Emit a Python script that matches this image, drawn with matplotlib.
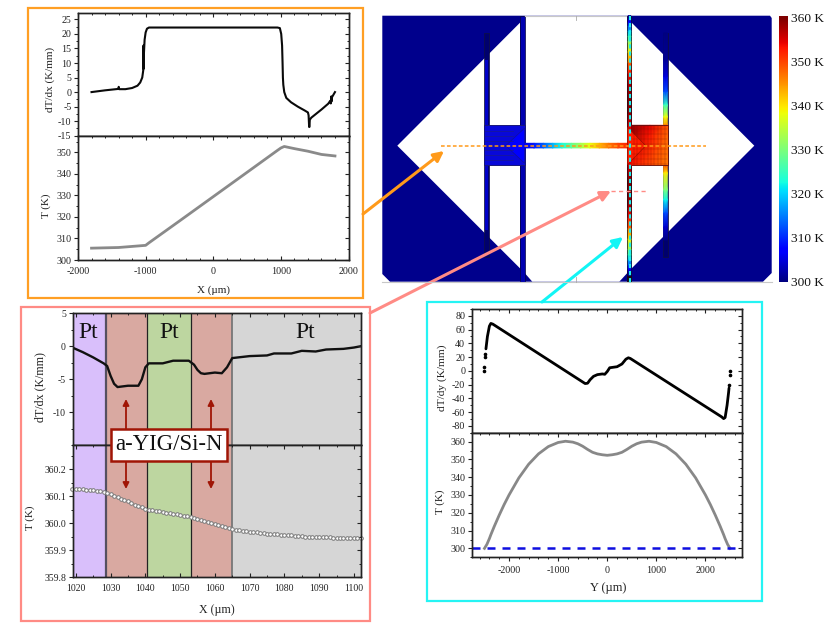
import numpy as np
import matplotlib
matplotlib.use("Agg")
import matplotlib.pyplot as plt
from matplotlib.patches import Rectangle, Polygon, FancyArrowPatch
from matplotlib.ticker import MultipleLocator, FixedLocator, FormatStrFormatter

plt.rcParams['font.family'] = ['Liberation Serif', 'DejaVu Serif']
plt.rcParams['axes.unicode_minus'] = False
plt.rcParams['mathtext.fontset'] = 'stix'

W, H = 830, 623

# panel A (orange)
a_x1 = [-1800,-1600,-1400,-1398,-1392,-1300,-1200,-1120,-1080,-1050,-1035,-1032,-1030,-1028,-1015,-1000,-980,-950,
        950,985,1005,1018,1025,1030,1036,1050,1080,1150,1250,1350,1400,1410,1418,1422,1428,1450,1600,1700,1730,1738,1745,1750,1755,1800]
a_y1 = [0,0.6,1.1,1.8,1.0,1.0,1.4,2.2,3.3,5,7.5,16,8,12,18,20.5,21.8,22.2,
        22.2,22.0,20,16,10,5,2.5,0,-2,-3.5,-5,-6.3,-7,-8,-12,-12,-9.5,-8.8,-6,-4,-3,-3.9,-1.5,-3.2,-1.8,0]
a_x2 = [-1800,-1400,-1000,-950,-500,0,500,950,1000,1050,1200,1400,1600,1800]
a_y2 = [305.5,305.8,306.8,308.0,318.1,329.4,340.7,350.9,352.0,352.7,351.7,350.5,349.0,348.3]

# panel B (pink)
b_x1 = [1019,1022,1025,1028,1029,1030,1031,1032,1035,1038,1039,1040,1041,1045,1048,1052.5,1054,1055,1056,1057,1060,1062,1063.5,1065,
        1070,1075,1077,1082,1085,1089,1092,1097,1100,1102]
b_y1 = [-0.2,-0.9,-1.7,-2.6,-3.0,-4.5,-5.7,-6.2,-6.0,-6.0,-5.0,-3.2,-2.6,-2.6,-2.2,-2.2,-2.8,-3.6,-4.1,-4.2,-4.0,-4.1,-3.2,-1.8,
        -1.5,-1.4,-1.1,-1.1,-0.7,-0.8,-0.5,-0.4,-0.2,0.0]
b_x2 = list(range(1019, 1103))
b_y2 = [360.128,360.128,360.127,360.126,360.125,360.124,360.122,360.120,360.118,360.115,360.112,
        360.107,360.101,360.096,360.091,360.086,360.081,360.075,360.069,360.064,360.059,
        360.054,360.051,360.048,360.046,360.044,360.041,360.039,360.037,360.035,360.033,
        360.030,360.028,360.026,360.023,360.020,360.017,360.013,360.009,360.005,360.001,
        359.996,359.992,359.989,359.986,359.982,359.979,359.977,359.975,359.973,359.971,
        359.969,359.968,359.966,359.965,359.963,359.962,359.961,359.960,359.959,359.958,
        359.957,359.956,359.955,359.954,359.953,359.952,359.951,359.951,359.950,359.950,
        359.949,359.949,359.948,359.948,359.947,359.947,359.946,359.946,359.946,359.945,359.945,359.945,359.945]
b_regions = [(1019,1028.6,'#d9bffb'),(1028.6,1040.6,'#d9a9a1'),(1040.6,1053,'#bdd6a0'),(1053,1065,'#d9a9a1'),(1065,1102,'#d6d6d6')]
b_edges = [(1028.6,'#555060',1.6),(1040.6,'#222222',0.9),(1053,'#222222',0.9),(1065,'#777777',1.3)]

# panel C (cyan)
c_x1 = [-2470,-2440,-2400,-2370,-2330,-450,-400,-350,-280,-200,-100,-50,0,50,100,200,300,380,430,470,2330,2370,2400,2440,2470,2480]
c_y1 = [32,50,65,69,68,-18.5,-18,-13,-8,-5.5,-4.5,-5,-1,4.5,5,6,10,17,19,18,-67,-69.5,-68,-50,-32,-25]
c_dots_x = [-2500,-2500,-2480,-2480,2480,2500,2500]
c_dots_y = [0,6,20,25,-20,-6,0]
c_x2 = [-2500,-2450,-2400,-2370,-2300,-2200,-2100,-2000,-1800,-1600,-1400,-1200,-1000,-850,-700,-600,-500,-400,-300,-200,-100,0,
        100,200,300,400,500,600,700,850,1000,1200,1400,1600,1800,2000,2100,2200,2300,2370,2400,2450,2500]
c_y2 = [300,302.3,305.5,307.7,312.4,318.7,324.6,330,339.6,347.3,353.1,357.2,359.5,360.2,359.7,358.8,357.4,355.6,354,353.1,352.6,352.3,
        352.6,353.1,354,355.6,357.4,358.8,359.7,360.2,359.5,357.2,353.1,347.3,339.6,330,324.6,318.7,312.4,307.7,305.5,302.3,300]
c_base = 300

# device map: temperature along the strips
bridge_T = [306,309,313,318,323,328,333,338,343,347,350,352]
outer_py = [33,60,77,92,105,117,125,165,173,190,200,213,227,240]
outer_T =  [300,301,305,312,325,338,345,350,340,330,322,312,304,300]
cbar_ticks = [300,310,320,330,340,350,360]


def add(x0, y0, x1, y1, **kw):
    return fig.add_axes([x0/W, 1-y1/H, (x1-x0)/W, (y1-y0)/H], **kw)


def style(ax, xlim, ylim, xmaj, xmin, ymaj, ymin, top_only=False, ts=7.2):
    ax.set_xlim(xlim); ax.set_ylim(ylim)
    ax.xaxis.set_major_locator(MultipleLocator(xmaj)); ax.xaxis.set_minor_locator(MultipleLocator(xmin))
    ax.yaxis.set_major_locator(MultipleLocator(ymaj)); ax.yaxis.set_minor_locator(MultipleLocator(ymin))
    ax.tick_params(axis='x', which='major', direction='in', length=3.2, width=0.8, top=True, bottom=not top_only,
                   labelbottom=not top_only, labelsize=ts, pad=5, color='#222222', labelcolor='#222222')
    ax.tick_params(axis='x', which='minor', direction='in', length=1.6, width=0.7, top=True, bottom=not top_only, color='#222222')
    ax.tick_params(axis='y', which='major', direction='out', length=3.2, width=0.8, labelsize=ts, pad=1.5, color='#222222', labelcolor='#222222')
    ax.tick_params(axis='y', which='minor', direction='out', length=1.6, width=0.7, color='#222222')
    for s in ax.spines.values():
        s.set_linewidth(1.0); s.set_color('#222222')
    r = ax.twinx(); r.set_ylim(ylim)
    r.yaxis.set_major_locator(MultipleLocator(ymaj)); r.yaxis.set_minor_locator(MultipleLocator(ymin))
    r.tick_params(axis='y', which='major', direction='in', length=3.2, width=0.8, labelright=False, color='#222222')
    r.tick_params(axis='y', which='minor', direction='in', length=1.6, width=0.7, color='#222222')
    for s in r.spines.values():
        s.set_linewidth(1.0); s.set_color('#222222')
    return ax


fig = plt.figure(figsize=(W/100, H/100), dpi=100, facecolor='white')

# Panel A
a1 = style(add(78, 12.7, 348.5, 135.7), (-2000,2000), (-15,27.3), 1000, 200, 5, 2.5, True)
a1.plot(a_x1, a_y1, color='#0a0a0a', lw=1.5)
a2 = style(add(78, 135.7, 348.5, 260), (-2000,2000), (300,357.7), 1000, 200, 10, 5)
a2.plot(a_x2, a_y2, color='#8a8a8a', lw=2.0)

# Panel B
b1 = style(add(72.5, 313.3, 360.5, 445), (1019.04,1101.9), (-15,5), 10, 5, 5, 2.5, True, ts=7)
b1.yaxis.set_major_locator(FixedLocator([-10,-5,0,5]))
b1.yaxis.set_minor_locator(FixedLocator([-15,-12.5,-7.5,-2.5,2.5]))
b2 = style(add(72.5, 445, 360.5, 577.3), (1019.04,1101.9), (359.8,360.29), 10, 5, 0.1, 0.05, ts=7)
b2.yaxis.set_major_formatter(FormatStrFormatter('%.1f'))
for ax in (b1, b2):
    for x0, x1, c in b_regions:
        ax.axvspan(x0, x1, color=c, lw=0, zorder=0)
    for x, c, lw in b_edges:
        ax.axvline(x, color=c, lw=lw, zorder=1)
b1.plot(b_x1, b_y1, color='#111111', lw=1.7, zorder=3)
b2.plot(b_x2, b_y2, ls='none', marker='o', ms=2.6, mfc='white', mec='#777777', mew=0.7, zorder=3, clip_on=False)

# Panel C
c1 = style(add(471.7, 309, 742.3, 432.7), (-2760,2750), (-90,90), 1000, 200, 20, 10, True)
c1.plot(c_x1, c_y1, color='black', lw=2.0, solid_capstyle='round')
c1.plot(c_dots_x, c_dots_y, ls='none', marker='o', ms=1.6, color='black')
c2 = style(add(471.7, 432.7, 742.3, 557.3), (-2760,2750), (295,365), 1000, 200, 10, 5)
c2.tick_params(axis='x', which='both', direction='out', top=False, pad=3)
c2top = c2.secondary_xaxis('top')
c2top.xaxis.set_major_locator(MultipleLocator(1000)); c2top.xaxis.set_minor_locator(MultipleLocator(200))
c2top.tick_params(axis='x', which='major', direction='in', length=3.2, width=0.8, labeltop=False, color='#222222')
c2top.tick_params(axis='x', which='minor', direction='in', length=1.6, width=0.7, color='#222222')
c2.plot(c_x2, c_y2, color='#888888', lw=2.0)
c2.plot([-2760, 2620], [c_base, c_base], color='#0f0fe0', lw=1.8, dashes=(3.2, 2.8))

# Overlay in pixel coordinates
ov = fig.add_axes([0, 0, 1, 1], zorder=10)
ov.set_xlim(0, W); ov.set_ylim(H, 0); ov.axis('off'); ov.patch.set_alpha(0)

# Frames
for (x0, y0, x1, y1, c) in [(28,8,363,298,'#ff9f24'), (21,307,370,621,'#ff8b85'), (426.7,302,762,600.7,'#25f4f4')]:
    ov.add_patch(Rectangle((x0,y0), x1-x0, y1-y0, fill=False, ec=c, lw=1.6))

# Device
navy = '#00008c'
ov.add_patch(Polygon([(382.3,15.7),(770,15.7),(771.7,18),(771.7,273),(763,281.7),(390,281.7),(382.3,274)], fc=navy, ec='none'))
ov.plot([382.3,771.7],[281.7,281.7], color='#c8c8c8', lw=0.8)
ov.plot([525,626],[15.7,15.7], color='#c8c8c8', lw=0.8)
for pts in ([(397.3,145.7),(520,22.7),(520,268.3)], [(754.3,145.7),(631.7,22.7),(631.7,268.3)]):
    ov.add_patch(Polygon(pts, fc='white', ec='none'))
ov.add_patch(Polygon([(524.7,15.7),(627.3,15.7),(627.3,273),(619.3,281.7),(532.3,281.7),(524.7,273)], fc='white', ec='none'))
ov.plot([575.5,575.5],[15.7,20],color='#aaaaaa',lw=0.6); ov.plot([575.5,575.5],[277,281.7],color='#aaaaaa',lw=0.6)

# left structure
ov.add_patch(Rectangle((484.3,33.3), 4.3, 223.4, fc='#00006e', ec='#101040', lw=0.5))
ov.add_patch(Rectangle((485.3,60), 2.3, 170, fc='#0000c8', ec='none'))
ov.add_patch(Rectangle((520,15.7), 4.7, 266, fc='#0000b0', ec='#050540', lw=0.5))
ov.add_patch(Rectangle((484.3,125.3), 40.4, 40, fc='#0808d8', ec='#18187a', lw=0.7))
for zy in (131,136,141,146,150,155,160):
    ov.plot([485,513],[zy,zy], color='#1a1a90', lw=0.5)
ov.add_patch(Polygon([(524.7,128),(505.7,145.7),(524.7,163.3)], fc='#0000ff', ec='#10109a', lw=0.5))

# bridge
bx = np.linspace(524.7, 627.3, len(bridge_T))
ov.pcolormesh(bx, [143.3,147.9], np.array([bridge_T, bridge_T]), cmap='jet', vmin=300, vmax=360, shading='gouraud')

# right inner bar coloured by the T(Y) profile, on a dark backing
ov.add_patch(Rectangle((627.3,15.7), 4.4, 266, fc='#180818', ec='none'))
cy = 145.7 - np.array(c_x2) * 260/5000
cT = np.array(c_y2)
ov.pcolormesh([628.2,630.8], cy[::-1], np.array([cT[::-1], cT[::-1]]).T, cmap='jet', vmin=300, vmax=360, shading='gouraud')

# right outer bar
ov.add_patch(Rectangle((663,33.3), 4.7, 223.4, fc='#00006e', ec='#101040', lw=0.5))
ov.pcolormesh([663.7,667.3], outer_py, np.array([outer_T, outer_T]).T, cmap='jet', vmin=300, vmax=360, shading='gouraud')

# right pad
px_ = [631.7, 650, 667.7]
ov.pcolormesh(px_, [125.3,135,156,165.3], np.array([[359,355,349],[358,353,348],[354,351,347],[353,350,347]]),
              cmap='jet', vmin=300, vmax=360, shading='gouraud')
for zx in np.arange(634, 667, 3.4):
    ov.plot([zx,zx],[126,165], color='#701000', lw=0.35, alpha=0.5)
for zy in np.arange(129, 165, 5):
    ov.plot([632,667],[zy,zy], color='#701000', lw=0.35, alpha=0.5)
ov.add_patch(Polygon([(627.3,127),(645.7,145.7),(627.3,165)], fc='#ff1c00', ec='#901000', lw=0.4))
ov.plot([631.7,667.7,667.7,631.7],[125.3,125.3,165.3,165.3], color='#601010', lw=0.6)

# section lines
ov.plot([441,706],[145.7,145.7], color='#ff9a1a', lw=1.1, dashes=(2.4,1.5))
ov.plot([611,647],[191,191], color='#ff8b85', lw=1.0, dashes=(3,2.4))
ov.plot([629.5,629.5],[15.7,283], color='#1cf0f0', lw=1.5, dashes=(2,1.4))

# arrows
for p0, p1, c in [((363,214),(444,151),'#ff9a1a'), ((370,313),(611,191),'#ff8b85'), ((542,302),(623,237),'#12f5f5')]:
    ov.add_patch(FancyArrowPatch(p0, p1, arrowstyle='-|>', mutation_scale=15, lw=2.2, color=c, shrinkA=0, shrinkB=0))

# region labels
for x, s in [(88,'Pt'), (169,'Pt'), (305,'Pt')]:
    ov.text(x, 332.5, s, fontsize=17, ha='center', va='center', color='#111111')
for x in (126, 211):
    ov.add_patch(FancyArrowPatch((x,399),(x,489), arrowstyle='<|-|>', mutation_scale=9, lw=1.3, color='#a01505', shrinkA=0, shrinkB=0))
ov.add_patch(Rectangle((111,429), 115.7, 31.7, fc='white', ec='#a01505', lw=1.8, zorder=5))
ov.text(168.8, 445, 'a-YIG/Si-N', fontsize=16.4, ha='center', va='center', color='#111111', zorder=6)

# axis labels
lab = dict(color='#222222', ha='center', va='center')
ov.text(50.5, 79, 'dT/dx (K/mm)', fontsize=8, rotation=90, **lab)
ov.text(46, 206, 'T (K)', fontsize=8, rotation=90, **lab)
ov.text(213, 290, 'X (\u00b5m)', fontsize=8, **lab)
ov.text(40, 387, 'dT/dx (K/mm)', fontsize=8.6, rotation=90, **lab)
ov.text(30, 518, 'T (K)', fontsize=8, rotation=90, **lab)
ov.text(217, 610.5, 'X (\u00b5m)', fontsize=8.6, **lab)
ov.text(442, 378, 'dT/dy (K/mm)', fontsize=8.2, rotation=90, **lab)
ov.text(440, 502, 'T (K)', fontsize=8, rotation=90, **lab)
ov.text(607.7, 588, 'Y (\u00b5m)', fontsize=9, **lab)

# colour bar
cb = add(778.7, 15.7, 787.3, 281.7, zorder=11)
cb.imshow(np.linspace(360.4, 300, 256)[:, None], cmap='jet', vmin=300, vmax=360, aspect='auto', extent=(0,1,300,360.4))
cb.set_xticks([]); cb.yaxis.tick_right()
cb.set_yticks(cbar_ticks); cb.set_yticklabels([f'{t} K' for t in cbar_ticks], fontsize=9.6, color='#111111')
cb.tick_params(axis='y', length=0, pad=3)
for s in cb.spines.values():
    s.set_visible(False)

fig.savefig('out.png', dpi=100)
